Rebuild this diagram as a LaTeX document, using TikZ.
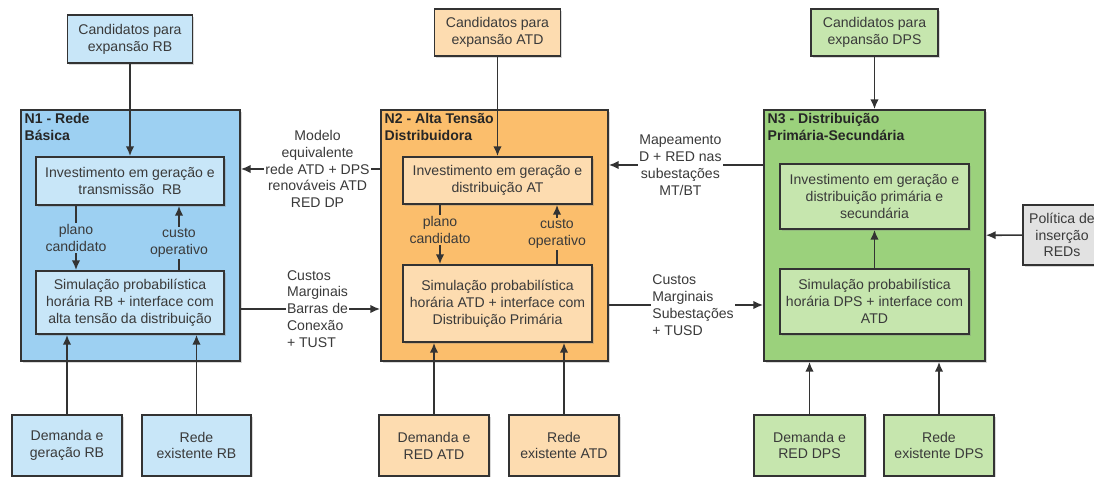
\documentclass[tikz,border=0pt]{standalone}
\usepackage{fontspec}
\setmainfont{Liberation Sans}
\usetikzlibrary{arrows.meta,shadows}

\definecolor{azulA}{HTML}{9DD0F2}
\definecolor{azulB}{HTML}{C8E6F8}
\definecolor{laranjaA}{HTML}{FBBE6C}
\definecolor{laranjaB}{HTML}{FDDCB0}
\definecolor{verdeA}{HTML}{9BD17C}
\definecolor{verdeB}{HTML}{C6E6AE}
\definecolor{cinzaB}{HTML}{E2E2E2}
\definecolor{borda}{HTML}{333333}
\definecolor{texto}{HTML}{3A3A3A}

\tikzset{
  sombra/.style={drop shadow={shadow xshift=1.3pt,shadow yshift=-1.3pt,opacity=0.3}},
  caixa/.style={draw=borda, line width=1.2pt, align=center, text=texto, inner sep=2pt, sombra},
  nivel/.style={draw=borda, line width=1.2pt, sombra},
  sz/.style 2 args={minimum width=#1*0.025cm, minimum height=#2*0.025cm},
  titulo/.style={anchor=north west, align=left, font=\bfseries, text=black!85, inner sep=3pt},
  seta/.style={draw=borda, line width=1.2pt, -{Latex[length=7pt,width=6pt]}},
  linha/.style={draw=borda, line width=1.2pt},
  rot/.style={align=center, text=texto, inner sep=1pt, fill=white},
}

\begin{document}
\begin{tikzpicture}[x=0.025cm,y=-0.025cm,font=\fontsize{10}{12}\selectfont]
\useasboundingbox (0,0) rectangle (1094,477);

% niveis
\node[nivel,fill=azulA,sz={219}{251}] (n1) at (130.5,235.5) {};
\node[nivel,fill=laranjaA,sz={227}{251}] (n2) at (494.5,235.5) {};
\node[nivel,fill=verdeA,sz={221}{251}] (n3) at (874.5,235.5) {};
\node[titulo] (t1) at (n1.north west) {N1 - Rede\\Básica};
\node[titulo] (t2) at (n2.north west) {N2 - Alta Tensão\\Distribuidora};
\node[titulo] (t3) at (n3.north west) {N3 - Distribuição\\Primária-Secundária};

% candidatos
\node[caixa,fill=azulB,sz={125}{48}] (candRB) at (130,39) {Candidatos para\\expansão RB};
\node[caixa,fill=laranjaB,sz={126}{47}] (candATD) at (497.5,32.5) {Candidatos para\\expansão ATD};
\node[caixa,fill=verdeB,sz={127}{47}] (candDPS) at (874.5,32.5) {Candidatos para\\expansão DPS};

% investimento e simulacao
\node[caixa,fill=azulB,sz={188}{48}] (invRB) at (130,181) {Investimento em geração e\\transmissão~ RB};
\node[caixa,fill=azulB,sz={188}{63}] (simRB) at (130,302.5) {Simulação probabilística\\horária RB + interface com\\alta tensão da distribuição};
\node[caixa,fill=laranjaB,sz={189}{47}] (invATD) at (497.5,180.5) {Investimento em geração e\\distribuição AT};
\node[caixa,fill=laranjaB,sz={189}{77}] (simATD) at (497.5,303.5) {Simulação probabilística\\horária ATD + interface com\\Distribuição Primária};
\node[caixa,fill=verdeB,sz={189}{65}] (invDPS) at (874.5,196.5) {Investimento em geração e\\distribuição primária e\\secundária};
\node[caixa,fill=verdeB,sz={189}{65}] (simDPS) at (874.5,301.5) {Simulação probabilística\\horária DPS + interface com\\ATD};

% entradas
\node[caixa,fill=azulB,sz={110}{61}] (demRB) at (67,445.5) {Demanda e\\geração RB};
\node[caixa,fill=azulB,sz={109}{61}] (redeRB) at (196.5,445.5) {Rede\\existente RB};
\node[caixa,fill=laranjaB,sz={110}{61}] (demATD) at (434,445.5) {Demanda e\\RED ATD};
\node[caixa,fill=laranjaB,sz={110}{61}] (redeATD) at (564,445.5) {Rede\\existente ATD};
\node[caixa,fill=verdeB,sz={111}{61}] (demDPS) at (809.5,445.5) {Demanda e\\RED DPS};
\node[caixa,fill=verdeB,sz={110}{61}] (redeDPS) at (939,445.5) {Rede\\existente DPS};
\node[caixa,fill=cinzaB,sz={78}{60}] (pol) at (1062,235) {Política de\\inserção\\REDs};

% rotulos internos
\node[rot,fill=azulA] (pc1) at (76,238) {plano\\candidato};
\node[rot,fill=azulA] (co1) at (179,243) {custo\\operativo};
\node[rot,fill=laranjaA] (pc2) at (440,230) {plano\\candidato};
\node[rot,fill=laranjaA] (co2) at (557,234) {custo\\operativo};

\coordinate (yME) at (0,169);
\coordinate (yCB) at (0,309);
\coordinate (yMP) at (0,165);
\coordinate (yCS) at (0,305);

\draw[seta] (candRB) -- (invRB);
\draw[seta] (candATD) -- (invATD);
\draw[seta] (candDPS) -- (n3);

\draw[linha] (invRB.south -| pc1) -- (pc1);
\draw[seta] (pc1) -- (pc1 |- simRB.north);
\draw[linha] (simRB.north -| co1) -- (co1);
\draw[seta] (co1) -- (co1 |- invRB.south);
\draw[linha] (invATD.south -| pc2) -- (pc2);
\draw[seta] (pc2) -- (pc2 |- simATD.north);
\draw[linha] (simATD.north -| co2) -- (co2);
\draw[seta] (co2) -- (co2 |- invATD.south);
\draw[seta] (simDPS) -- (invDPS);

\draw[seta] (demRB) -- (demRB |- simRB.south);
\draw[seta] (redeRB) -- (redeRB |- simRB.south);
\draw[seta] (demATD) -- (demATD |- simATD.south);
\draw[seta] (redeATD) -- (redeATD |- simATD.south);
\draw[seta] (demDPS) -- (demDPS |- n3.south);
\draw[seta] (redeDPS) -- (redeDPS |- n3.south);

\draw[seta] (n2.west |- yME) -- node[rot,xshift=5]{Modelo\\equivalente\\rede ATD + DPS\\renováveis ATD\\RED DP} (n1.east |- yME);
\draw[seta] (n1.east |- yCB) -- node[rot,align=left,xshift=5]{Custos\\Marginais\\Barras de\\Conexão\\+ TUST} (n2.west |- yCB);
\draw[seta] (n3.west |- yMP) -- node[rot,xshift=-4]{Mapeamento\\D + RED nas\\subestações\\MT/BT} (n2.east |- yMP);
\draw[seta] (n2.east |- yCS) -- node[rot,align=left,xshift=5]{Custos\\Marginais\\Subestações\\+ TUSD} (n3.west |- yCS);
\draw[seta] (pol) -- (n3);
\end{tikzpicture}
\end{document}
